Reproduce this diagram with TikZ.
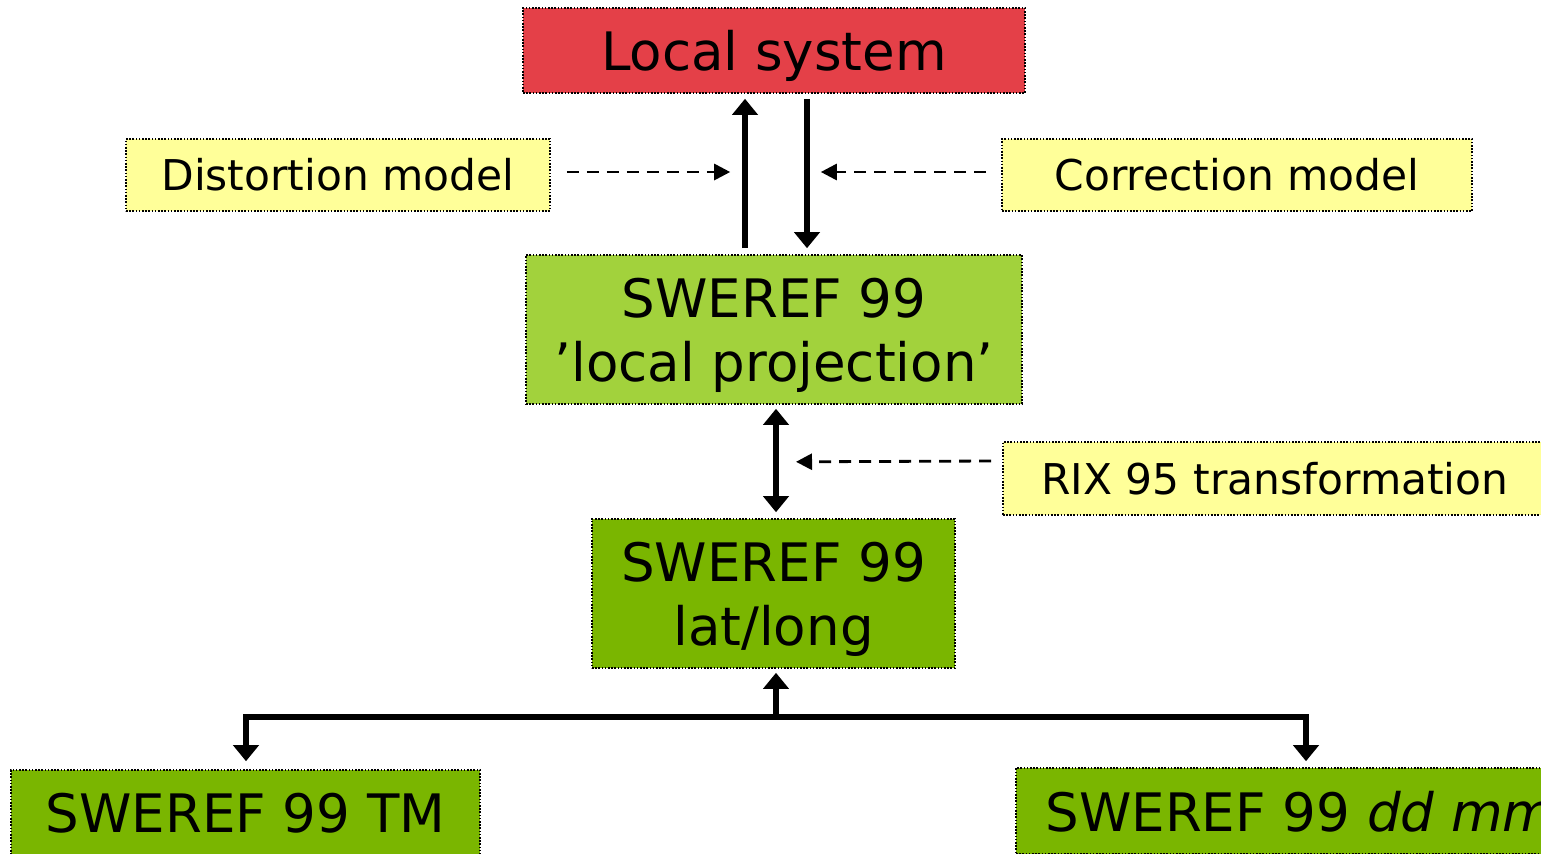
\documentclass[tikz,border=0pt]{standalone}
\usepackage{fontspec}
\setmainfont{DejaVu Sans}
\usetikzlibrary{arrows.meta,calc}
\definecolor{redbox}{RGB}{228,64,72}
\definecolor{lightgreen}{RGB}{162,210,60}
\definecolor{darkgreen}{RGB}{122,182,0}
\definecolor{yellowbox}{RGB}{255,255,153}
\tikzset{
  boxborder/.style={draw=black,line width=0.8pt,dash pattern=on 0.8pt off 0.8pt},
  bigbox/.style={boxborder,inner sep=0pt,align=center,text depth=0pt,font=\fontsize{26.5}{32}\selectfont},
  label box/.style={boxborder,fill=yellowbox,inner sep=0pt,font=\fontsize{21.2}{25}\selectfont},
  bigarrow/.style={line width=3pt,-{Triangle[width=12.5pt,length=8pt]}},
  bigdouble/.style={line width=3pt,{Triangle[width=12.5pt,length=8pt]}-{Triangle[width=12.5pt,length=8pt]}},
  dasharrow/.style={line width=1.4pt,dash pattern=on 6pt off 4pt,-{Triangle[width=8pt,length=8pt]}}
}
\begin{document}
\begin{tikzpicture}[x=0.5pt,y=-0.5pt]
\useasboundingbox (0,0) rectangle (1541,853);
\clip (0,0) rectangle (1541,853);
% boxes
\node[bigbox,fill=redbox,minimum width=251pt,minimum height=42.5pt] (ls) at (774,50.5) {Local system};
\node[bigbox,fill=lightgreen,minimum width=248pt,minimum height=74.5pt] (lp) at (774,329.5) {SWEREF 99\\’local projection’};
\node[bigbox,fill=darkgreen,minimum width=181.5pt,minimum height=74.5pt] (ll) at (773.5,593.5) {SWEREF 99\\lat/long};
\node[bigbox,fill=darkgreen,minimum width=234.5pt,minimum height=43pt] (tm) at (245.5,813) {SWEREF 99 TM};
\node[bigbox,fill=darkgreen,minimum width=284pt,minimum height=43pt] (dd) at (1300,811) {SWEREF 99 \textit{dd mm}};
\node[label box,minimum width=212pt,minimum height=36pt] (dm) at (338,175) {Distortion model};
\node[label box,minimum width=235pt,minimum height=36pt] (cm) at (1237,175) {Correction model};
\node[label box,minimum width=272pt,minimum height=36.5pt] (rix) at (1275,478.5) {RIX 95 transformation};
% arrows between local system and local projection
\draw[bigarrow] ($(lp.north)+(-29,-6)$) -- ($(ls.south)+(-29,5)$);
\draw[bigarrow] ($(ls.south)+(33,5)$) -- ($(lp.north)+(33,-6)$);
\draw[dasharrow] ($(dm.east)+(16,-3)$) -- ($(cm.west)+(-271,-3)$);
\draw[dasharrow] ($(cm.west)+(-15,-3)$) -- ($(dm.east)+(270,-3)$);
% RIX
\draw[bigdouble] ($(lp.south)+(2,4)$) -- ($(ll.north)+(2.5,-6)$);
\draw[dasharrow] ($(rix.west)+(-11,-17.5)$) -- ($(lp.south)+(22,57)$);
% bottom tree
\coordinate (j) at ($(ll.south)+(2.5,48)$);
\draw[bigarrow] (j) -- ($(ll.south)+(2.5,4)$);
\draw[bigdouble,line join=miter] ($(tm.north)+(0.5,-8)$) |- (j) -| ($(dd.north)+(6,-6)$);
\end{tikzpicture}
\end{document}
